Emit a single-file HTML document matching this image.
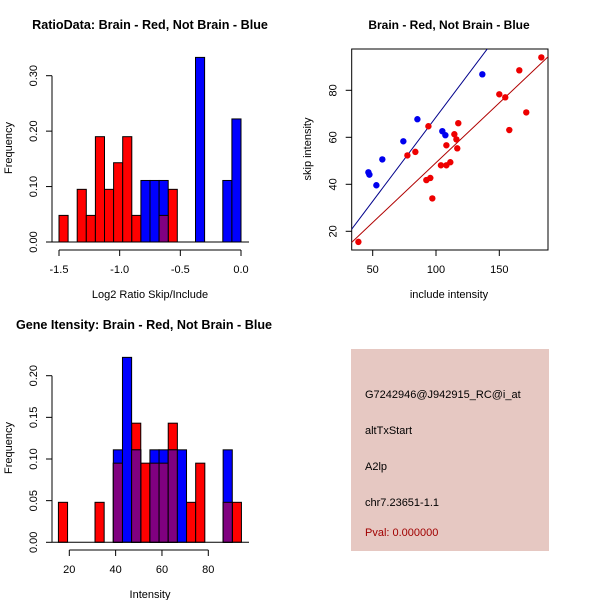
<!DOCTYPE html>
<html><head><meta charset="utf-8"><style>
body{margin:0;background:#fff}
svg{display:block;font-family:"Liberation Sans",sans-serif}
</style></head><body>
<svg id="c" width="600" height="600" xmlns="http://www.w3.org/2000/svg">
<text x="150" y="29" text-anchor="middle" font-size="12.6" font-weight="bold">RatioData: Brain - Red, Not Brain - Blue</text>
<text x="449" y="29" text-anchor="middle" font-size="12" font-weight="bold">Brain - Red, Not Brain - Blue</text>
<text x="144" y="329" text-anchor="middle" font-size="12.6" font-weight="bold">Gene Itensity: Brain - Red, Not Brain - Blue</text>
<text x="150" y="298" text-anchor="middle" font-size="11">Log2 Ratio Skip/Include</text>
<text x="12" y="148" text-anchor="middle" font-size="11" transform="rotate(-90 12 148)">Frequency</text>
<text x="449" y="298" text-anchor="middle" font-size="11">include intensity</text>
<text x="311" y="149" text-anchor="middle" font-size="11" transform="rotate(-90 311 149)">skip intensity</text>
<text x="150" y="598" text-anchor="middle" font-size="11">Intensity</text>
<text x="12" y="448" text-anchor="middle" font-size="11" transform="rotate(-90 12 448)">Frequency</text>
<g>
<rect x="351" y="349" width="198" height="202" fill="#e6c8c2"/>
<text x="365" y="398" font-size="11">G7242946@J942915_RC@i_at</text>
<text x="365" y="434" font-size="11">altTxStart</text>
<text x="365" y="470" font-size="11">A2lp</text>
<text x="365" y="506" font-size="11">chr7.23651-1.1</text>
<text x="365" y="536" font-size="11" fill="#a00000">Pval: 0.000000</text>
</g>
</svg>
<script>
const NS="http://www.w3.org/2000/svg";
const svg=document.getElementById('c');
function mk(t,a,p){const e=document.createElementNS(NS,t);for(const k in a)e.setAttribute(k,a[k]);(p||svg).appendChild(e);return e;}

// Panel 1 data
const ratioBinStart=-1.5, ratioBinWidth=0.075;
const ratioRed=[0.048,0,0.095,0.048,0.19,0.095,0.143,0.19,0.048,0,0,0.048,0.095,0,0,0,0,0,0,0];
const ratioBlue=[0,0,0,0,0,0,0,0,0,0.111,0.111,0.111,0,0,0,0.333,0,0,0.111,0.222];
const ratioXTicks=[-1.5,-1.0,-0.5,0.0];
const ratioXLabels=["-1.5","-1.0","-0.5","0.0"];
const ratioYTicks=[0,0.1,0.2,0.3];
const ratioYLabels=["0.00","0.10","0.20","0.30"];
// Panel 2 data
const blueInc=[46.6,47.4,52.9,57.6,74.2,85.3,105,107.4,136.6];
const blueSkip=[45.1,44.1,39.6,50.6,58.3,67.7,62.6,60.9,86.8];
const redInc=[38.7,77.4,83.7,94,92.4,95.5,97.1,103.9,108.2,111.3,108.2,114.5,116.1,116.8,117.6,150,154.7,157.9,165.8,171.3,183.2];
const redSkip=[15.5,52.3,53.8,64.7,41.8,42.7,34.0,48.1,48.1,49.4,56.6,61.3,59.1,55.3,66.0,78.3,77.0,63.1,88.5,70.6,94.0];
const blueFit=[-3.0,0.716];
const redFit=[-1.7,0.509];
const scXTicks=[50,100,150];
const scYTicks=[20,40,60,80];
// Panel 3 data
const intBinStart=15.3, intBinWidth=3.95;
const intRed=[0.048,0,0,0,0.048,0,0.095,0,0.143,0.095,0.095,0.095,0.143,0,0.048,0.095,0,0,0.048,0.048];
const intBlue=[0,0,0,0,0,0,0.111,0.222,0.111,0,0.111,0.111,0.111,0.111,0,0,0,0,0.111,0];
const intXTicks=[20,40,60,80];
const intYTicks=[0,0.05,0.1,0.15,0.2];
const intYLabels=["0.00","0.05","0.10","0.15","0.20"];

function lin(d0,d1,r0,r1){return v=>r0+(v-d0)*(r1-r0)/(d1-d0);}

function hist(g,name,start,w,red,blue,sx,sy){
  const n=red.length;
  for(let i=0;i<n;i++){
    const x0=sx(start+i*w),x1=sx(start+(i+1)*w);
    if(red[i]>0){const r=mk('rect',{x:x0,y:sy(red[i]),width:x1-x0,height:sy(0)-sy(red[i]),fill:'#ff0000',stroke:'#000','stroke-width':1},g);
      
      }
  }
  for(let i=0;i<n;i++){
    const x0=sx(start+i*w),x1=sx(start+(i+1)*w);
    if(blue[i]>0){const r=mk('rect',{x:x0,y:sy(blue[i]),width:x1-x0,height:sy(0)-sy(blue[i]),fill:'#0000ff',stroke:'#000','stroke-width':1},g);
      
      }
    const m=Math.min(red[i],blue[i]);
    if(m>0){const r=mk('rect',{x:x0,y:sy(m),width:x1-x0,height:sy(0)-sy(m),fill:'#800080',stroke:'#000','stroke-width':1},g);
      
      }
  }
}
function xaxis(g,name,ticks,labels,sx,y){
  const a=mk('line',{x1:sx(ticks[0]),x2:sx(ticks[ticks.length-1]),y1:y,y2:y,stroke:'#000'},g);
  
  
  ticks.forEach((t,i)=>{mk('line',{x1:sx(t),x2:sx(t),y1:y,y2:y+6,stroke:'#000'},g);
    const l=mk('text',{x:sx(t),y:y+23,'text-anchor':'middle','font-size':11},g);l.textContent=labels[i];
    
    });
}
function yaxis(g,name,ticks,labels,sy,x){
  const a=mk('line',{x1:x,x2:x,y1:sy(ticks[0]),y2:sy(ticks[ticks.length-1]),stroke:'#000'},g);
  
  
  ticks.forEach((t,i)=>{mk('line',{x1:x-6,x2:x,y1:sy(t),y2:sy(t),stroke:'#000'},g);
    const tx=x-15,ty=sy(t);
    const l=mk('text',{x:tx,y:ty,'text-anchor':'middle','font-size':11,transform:`rotate(-90 ${tx} ${ty})`},g);l.textContent=labels[i];
    
    });
}

// Panel 1
const g1=mk('g',{});


const sx1=lin(-1.5,0,59,241), sy1=lin(0,0.3,242,75.7);
hist(g1,'ratio',ratioBinStart,ratioBinWidth,ratioRed,ratioBlue,sx1,sy1);
mk('line',{x1:52,x2:249,y1:242,y2:242,stroke:'#000'},g1);
xaxis(g1,'ratio',ratioXTicks,ratioXLabels,sx1,250);
yaxis(g1,'ratio',ratioYTicks,ratioYLabels,sy1,52);

// Panel 2
const g2=mk('g',{});


const sx2=lin(50,150,372.7,499.3), sy2=lin(20,80,231.3,90.3);
const box=mk('rect',{x:351.7,y:49,width:196.3,height:201,fill:'none',stroke:'#000'},g2);


mk('clipPath',{id:'cp'},g2).appendChild(document.createElementNS(NS,'rect'));
const cr=g2.querySelector('#cp rect');cr.setAttribute('x',351.7);cr.setAttribute('y',49);cr.setAttribute('width',196.3);cr.setAttribute('height',201);
[[blueFit,'#00008b','blue-fit-line'],[redFit,'#b00000','red-fit-line']].forEach(([f,c,n])=>{
  const xa=30,xb=200;
  const l=mk('line',{x1:sx2(xa),y1:sy2(f[0]+f[1]*xa),x2:sx2(xb),y2:sy2(f[0]+f[1]*xb),stroke:c,'clip-path':'url(#cp)'},g2);
  
  
});
blueInc.forEach((v,i)=>{const p=mk('circle',{cx:sx2(v),cy:sy2(blueSkip[i]),r:3.2,fill:'#0000ee'},g2);
  
  });
redInc.forEach((v,i)=>{const p=mk('circle',{cx:sx2(v),cy:sy2(redSkip[i]),r:3.2,fill:'#ee0000'},g2);
  
  });
scXTicks.forEach(t=>{mk('line',{x1:sx2(t),x2:sx2(t),y1:250,y2:256,stroke:'#000'},g2);
  const l=mk('text',{x:sx2(t),y:273,'text-anchor':'middle','font-size':11},g2);l.textContent=t;
  
  });
scYTicks.forEach(t=>{const y=sy2(t);mk('line',{x1:345.7,x2:351.7,y1:y,y2:y,stroke:'#000'},g2);
  const l=mk('text',{x:336.7,y:y,'text-anchor':'middle','font-size':11,transform:`rotate(-90 336.7 ${y})`},g2);l.textContent=t;
  
  });

// Panel 3
const g3=mk('g',{});


const sx3=lin(20,80,69.3,208.3), sy3=lin(0,0.2,542.3,375.7);
hist(g3,'intensity',intBinStart,intBinWidth,intRed,intBlue,sx3,sy3);
mk('line',{x1:52,x2:249,y1:542.3,y2:542.3,stroke:'#000'},g3);
xaxis(g3,'intensity',intXTicks,intXTicks.map(String),sx3,550);
yaxis(g3,'intensity',intYTicks,intYLabels,sy3,52);
</script>
</body></html>
